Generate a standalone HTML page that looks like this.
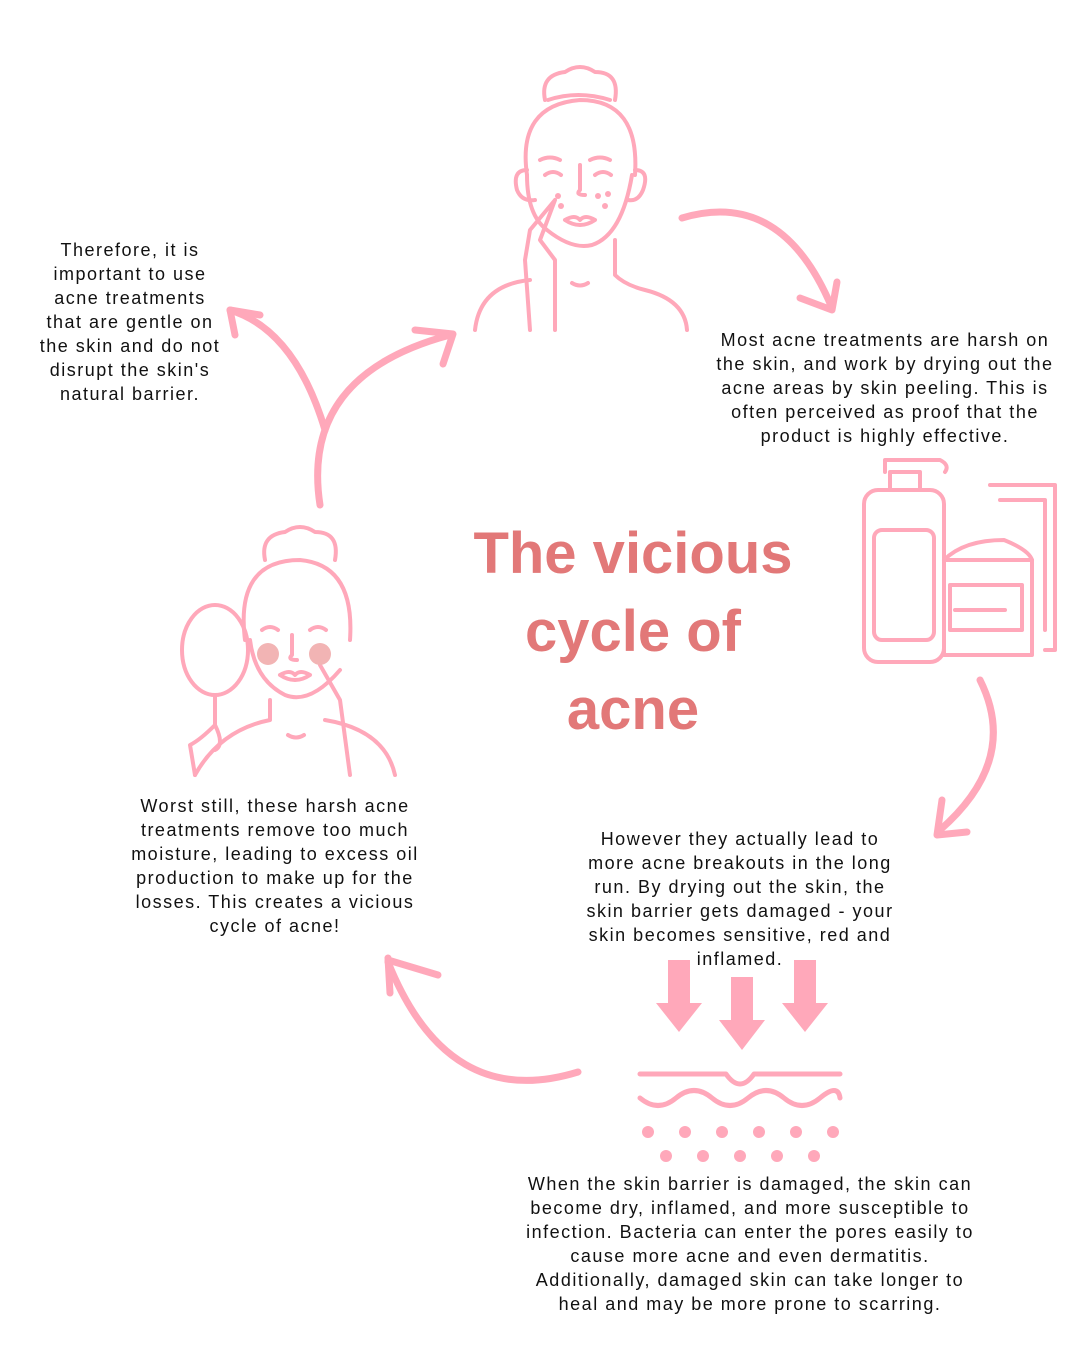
<!DOCTYPE html>
<html><head><style>
body{margin:0;width:1080px;height:1350px;background:#fff;position:relative;overflow:hidden;font-family:"Liberation Sans",sans-serif;}
.t{position:absolute;text-align:center;font-size:18px;line-height:24px;color:#111;letter-spacing:1.5px;white-space:nowrap;transform:translateX(-50%);}
.title{position:absolute;left:633px;top:515px;transform:translateX(-50%);text-align:center;font-weight:bold;font-size:58px;line-height:78px;color:#e27878;white-space:nowrap;}
svg{position:absolute;left:0;top:0;}
</style></head><body>
<svg width="1080" height="1350" fill="none" stroke="#ffa8ba" stroke-width="4" stroke-linecap="round" stroke-linejoin="round">
<path d="M545 100 q-5-25 20-28 q15-10 30 0 q25 0 20 28"/>
<path d="M548 100 q30-10 62 0"/>
<path d="M527 175 q-10-70 53-75 q60 0 55 75"/>
<path d="M527 175 q0 40 20 55 q25 20 45 15 q30-10 40-70"/>
<path d="M527 170 q-15 0-10 20 q5 12 18 10 M635 170 q15 0 8 20 q-5 12-15 10"/>
<path d="M540 160 q10-5 20 0 M590 160 q10-5 20 0 M545 175 q8-6 16 0 M595 175 q8-6 16 0"/>
<path d="M580 165 v25 q-5 5 5 5"/>
<path d="M565 220 q10-6 15 0 q5-6 15 0 q-15 10-30 0"/>
<path d="M555 200 l-25 30 l-5 30 l5 70 M555 200 l-15 40 l15 20 v70"/>
<path d="M530 280 q-50 5-55 50 M615 240 v35 q10 10 30 15 q40 10 42 40"/>
<path d="M572 283 q8 5 16 0"/>
<g fill="#ffa8ba" stroke="none"><circle cx="558" cy="196" r="3"/><circle cx="561" cy="206" r="3"/><circle cx="598" cy="196" r="3"/><circle cx="608" cy="194" r="3"/><circle cx="605" cy="206" r="3"/></g>
<path d="M682 218 q100-30 150 90" stroke-width="7"/>
<path d="M800 298 l32 12 l5-28" stroke-width="7"/>
<path d="M980 680 q40 80-40 150" stroke-width="7"/>
<path d="M942 800 l-5 35 l30-3" stroke-width="7"/>
<path d="M578 1072 q-130 40-190-110" stroke-width="7"/>
<path d="M388 958 l2 35 M388 960 l50 15" stroke-width="7"/>
<path d="M320 505 q-20-130 130-170" stroke-width="7"/>
<path d="M415 330 l38 4 l-10 30" stroke-width="7"/>
<path d="M325 430 q-30-100-95-120" stroke-width="7"/>
<path d="M235 335 l-5-25 l30 5" stroke-width="7"/>
<rect x="864" y="490" width="80" height="172" rx="14"/>
<rect x="874" y="530" width="60" height="110" rx="8"/>
<path d="M890 490 v-18 h30 v18 M885 472 v-12 h55 q10 5 5 12"/>
<path d="M990 485 h65 v165 h-10 M1000 500 h45 v130"/>
<rect x="944" y="560" width="88" height="95"/>
<rect x="950" y="585" width="72" height="45"/>
<path d="M955 610 h50 M944 560 q20-20 60-20 q25 10 28 20"/>
<ellipse cx="215" cy="650" rx="33" ry="45"/>
<path d="M215 695 v30 q-15 15-25 20 l5 30 M215 725 q10 20 0 25"/>
<path d="M265 560 q-5-25 20-28 q15-10 30 0 q25 0 20 28"/>
<path d="M245 640 q-10-80 55-80 q55 5 50 80"/>
<path d="M250 640 q5 40 35 55 q25 10 55-25"/>
<path d="M262 630 q8-6 16 0 M310 630 q8-6 16 0 M292 635 v20 q-5 5 5 5"/>
<path d="M280 675 q10-6 15 0 q5-6 15 0 q-15 10-30 0"/>
<path d="M320 665 l20 35 l10 75 M270 700 v20 q-50 10-75 55 M325 720 q60 10 70 55"/>
<path d="M288 735 q8 5 16 0"/>
<g fill="#f2b4b4" stroke="none"><circle cx="268" cy="654" r="11"/><circle cx="320" cy="654" r="11"/></g>
<g fill="#ffa8ba" stroke="none">
<rect x="668" y="960" width="22" height="45"/><polygon points="656,1003 702,1003 679,1032"/>
<rect x="731" y="977" width="22" height="45"/><polygon points="719,1020 765,1020 742,1050"/>
<rect x="794" y="960" width="22" height="45"/><polygon points="782,1003 828,1003 805,1032"/>
<circle cx="648" cy="1132" r="6"/><circle cx="685" cy="1132" r="6"/><circle cx="722" cy="1132" r="6"/><circle cx="759" cy="1132" r="6"/><circle cx="796" cy="1132" r="6"/><circle cx="833" cy="1132" r="6"/>
<circle cx="666" cy="1156" r="6"/><circle cx="703" cy="1156" r="6"/><circle cx="740" cy="1156" r="6"/><circle cx="777" cy="1156" r="6"/><circle cx="814" cy="1156" r="6"/>
</g>
<path d="M640 1074 h86 q14 20 28 0 h86" stroke-width="5"/>
<path d="M640 1098 q18 15 36 0 t36 0 t36 0 t36 0 t36 0 t20 0" stroke-width="5"/>
</svg>
<div class="title">The vicious<br>cycle of<br>acne</div>
<div class="t" style="left:130px;top:238px">Therefore, it is<br>important to use<br>acne treatments<br>that are gentle on<br>the skin and do not<br>disrupt the skin's<br>natural barrier.</div>
<div class="t" style="left:885px;top:328px">Most acne treatments are harsh on<br>the skin, and work by drying out the<br>acne areas by skin peeling. This is<br>often perceived as proof that the<br>product is highly effective.</div>
<div class="t" style="left:740px;top:827px">However they actually lead to<br>more acne breakouts in the long<br>run. By drying out the skin, the<br>skin barrier gets damaged - your<br>skin becomes sensitive, red and<br>inflamed.</div>
<div class="t" style="left:275px;top:794px">Worst still, these harsh acne<br>treatments remove too much<br>moisture, leading to excess oil<br>production to make up for the<br>losses. This creates a vicious<br>cycle of acne!</div>
<div class="t" style="left:750px;top:1172px">When the skin barrier is damaged, the skin can<br>become dry, inflamed, and more susceptible to<br>infection. Bacteria can enter the pores easily to<br>cause more acne and even dermatitis.<br>Additionally, damaged skin can take longer to<br>heal and may be more prone to scarring.</div>
</body></html>
